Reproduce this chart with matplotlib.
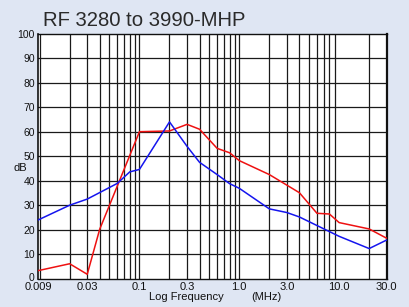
import matplotlib
matplotlib.use("Agg")
import matplotlib.pyplot as plt
import matplotlib.transforms as mtransforms
from matplotlib.ticker import FixedLocator, NullLocator

plt.rcParams['font.family'] = ['Liberation Sans', 'DejaVu Sans']

X_LEFT = 0.0097
X_RIGHT = 30.0

red_freq = [X_LEFT, 0.02, 0.03, 0.04, 0.1, 0.2, 0.3, 0.4, 0.6, 0.8, 1.0, 2.0, 4.0, 6.0, 8.0, 10.0, 20.0, 30.0]
red_db = [3.3, 6.1, 1.8, 20.2, 60.0, 60.3, 63.0, 61.0, 53.2, 51.4, 48.2, 42.5, 35.1, 26.7, 26.4, 22.9, 20.3, 16.5]

blue_freq = [X_LEFT, 0.02, 0.03, 0.06, 0.08, 0.1, 0.2, 0.3, 0.4, 0.6, 0.8, 1.0, 2.0, 3.0, 4.0, 10.0, 20.0, 30.0]
blue_db = [24.0, 30.0, 32.5, 38.9, 43.6, 44.6, 64.0, 54.0, 47.5, 42.5, 38.8, 36.9, 28.5, 27.0, 25.2, 17.3, 12.3, 15.8]

xtick_vals = [X_LEFT, 0.03, 0.1, 0.3, 1.0, 3.0, 10.0, 30.0]
xtick_labels = ["0.009", "0.03", "0.1", "0.3", "1.0", "3.0", "10.0", "30.0"]
ytick_vals = list(range(0, 101, 10))

grid_x = [m * 10.0 ** e for e in (-2, -1, 0) for m in range(1, 10)] + [20.0]

bg = '#dfe6f3'
fig = plt.figure(figsize=(4.09, 3.07), dpi=100, facecolor=bg)
ax = fig.add_axes([0.0936, 0.0922, 0.852, 0.798])
ax.set_facecolor('white')
ax.set_xscale('log')
ax.set_xlim(X_LEFT, X_RIGHT)
ax.set_ylim(0, 100)

for gx in grid_x:
    ax.axvline(gx, color='#1a1a1a', lw=0.9, zorder=1)
for gy in ytick_vals[1:-1]:
    ax.axhline(gy, color='#1a1a1a', lw=0.9, zorder=1)

ax.plot(red_freq, red_db, color='#ee1111', lw=1.1, zorder=3)
ax.plot(blue_freq, blue_db, color='#1515ee', lw=1.1, zorder=3)

ax.xaxis.set_major_locator(FixedLocator(xtick_vals))
ax.xaxis.set_minor_locator(NullLocator())
ax.set_xticklabels(xtick_labels)
ax.set_yticks(ytick_vals)
ax.tick_params(axis='both', length=0, labelsize=8, colors='#111111')
ax.tick_params(axis='x', pad=2.5)
ax.tick_params(axis='y', pad=2.5, labelsize=7.5)

# nudge the "0" y label up slightly, as in the reference
ylab0 = ax.get_yticklabels()[0]
ylab0.set_transform(ylab0.get_transform() + mtransforms.ScaledTranslation(0, 1.5 / 100, fig.dpi_scale_trans))

for s in ax.spines.values():
    s.set_color('#111111')
    s.set_linewidth(1.0)
ax.spines['right'].set_linewidth(1.6)
ax.spines['left'].set_linewidth(1.2)

fig.text(43 / 409, 1 - 26 / 307, "RF 3280 to 3990-MHP", fontsize=14.6, color='#2a2a2a', ha='left', va='baseline')
fig.text(20 / 409, 1 - 168 / 307, "dB", fontsize=8, color='#111111', ha='center', va='center')
fig.text(186 / 409, 1 - 297.5 / 307, "Log Frequency", fontsize=8, color='#111111', ha='center', va='center')
fig.text(266 / 409, 1 - 297.5 / 307, "(MHz)", fontsize=8, color='#111111', ha='center', va='center')

fig.savefig('out.png', dpi=100, facecolor=bg)
